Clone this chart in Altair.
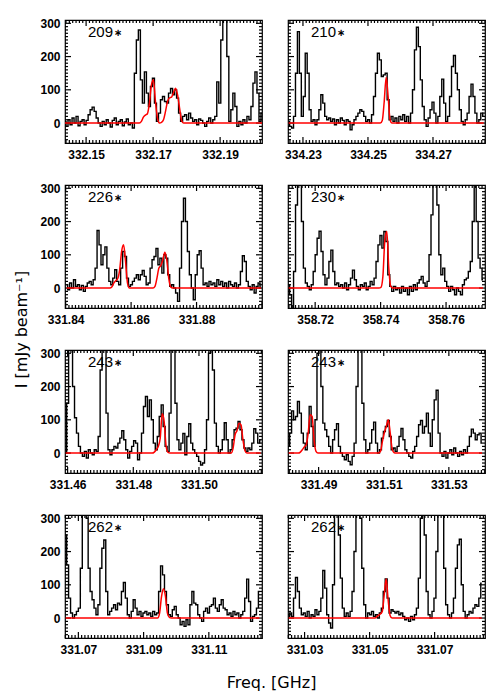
import altair as alt
import numpy as np
import pandas as pd

# ---------------- data ----------------
DF = 0.0006  # channel width [GHz]

labels = ["209", "210", "226", "230", "243", "243", "262", "262"]
STAR = "\u2217"

chan0 = [332.1437, 334.2256, 331.8403, 358.7119,
         331.4594, 331.4808, 331.0661, 331.0251]

xdom = [[332.1437, 332.2025], [334.2254, 334.2860],
        [331.8398, 331.9000], [358.7117, 358.7719],
        [331.4592, 331.5192], [331.4806, 331.5411],
        [331.0659, 331.1263], [331.0249, 331.0855]]

xlabels = [[332.15, 332.17, 332.19], [334.23, 334.25, 334.27],
           [331.84, 331.86, 331.88], [358.72, 358.74, 358.76],
           [331.46, 331.48, 331.50], [331.49, 331.51, 331.53],
           [331.07, 331.09, 331.11], [331.03, 331.05, 331.07]]

ylabels = [0, 100, 200, 300]

spec_209 = [5, -10, 10, -5, 15, 0, 20, -8, 5, 10, -5, 8,
            25, 40, 48, 35, 15,
            0, -10, 5, -5, 10, 0, -12, 8, 15, -5, 5, 10, -8, 3, 12, -5, 0, -15,
            150, 250, 280, 130, 60, 154, 90, 50, 110, 135, 60, 5, 30, 70, 80, 65,
            60, 90, 104, 85, 100, 75, 30, 5,
            20, 25, 10, 30, 15, 5, 10, -5, 12, 8, 0, -10, 5, 15, 0, 10,
            20, 124, 60, 250, 380, 400, 200, 5, 40, 90, 50, -10, 5, -5, 10, 0,
            20, 10, 50, 120, 154, 90, 5, 30]

spec_210 = [5, -10, -15, 20, 150, 275, 150, 20, 80, 210,
            150, 40, 5, 10, -5, 10, 40, 85, 60, 20,
            10, 15, 5, 12, -5, 10, 0, 15, 8, -5,
            10, 5, -20, -5, 10, 20, 30, 40, 35, 20,
            5, 10, 0, 25, 80, 150, 210, 190, 140, 145,
            150, 70, 10, 20, 5, 15, 0, 20, 10, 25,
            5, 20, 0, 30, 100, 220, 288, 230, 130, 50,
            10, -10, 15, 40, 63, 30, 0, 20, 80, 132,
            60, 5, 20, 80, 170, 203, 150, 100, 40, 5,
            -5, 10, 30, 80, 117, 80, 30, 0, 10, 30, 20]

spec_226 = [10, -5, 15, 0, 25, 5, 10, -5, 8, -10,
            5, 15, 20, 10, 25, 60, 173, 130, 70, 100,
            124, 60, 20, 10, 30, 55, 20, 10, 60, 110,
            95, 30, 5, 10, 20, 30, 40, 25, 40, 53,
            35, 10, 15, 60, 85, 95, 119, 70, 90, 45,
            100, 90, 40, 5, 10, 0, -15, -40, 60, 200,
            270, 200, 110, 40, 0, -35, 40, 100, 112, 60,
            10, 15, 5, 20, 10, 15, 5, 25, 10, 20,
            5, 15, 0, 20, 10, 5, 15, 0, 10, 50,
            97, 80, 20, 5, -5, 10, -15, 5, 15, 0]

spec_230 = [10, -20, -70, 50, 250, 380, 400, 200, 60, 15,
            5, -5, 10, 50, 100, 150, 171, 110, 40, 10,
            30, 80, 114, 50, 10, 15, 5, 10, 0, 15,
            -5, 10, 30, 54, 25, 5, -5, 10, 5, 15,
            -5, 5, 20, 10, 30, 80, 130, 158, 120, 170,
            140, 40, 5, -10, 5, -5, 0, -15, 5, -10,
            0, -20, 5, -10, 10, -5, 15, 25, 35, 15,
            5, 20, 100, 220, 340, 400, 250, 100, 40, 60,
            20, 5, -10, 5, -5, -20, 0, -10, -20, 10,
            25, 30, 50, 80, 200, 330, 200, 90, 60, 25]

spec_243a = [0, 150, 350, 400, 200, 106, 60, 20, 0, -10,
             5, -15, 10, 0, -5, 10, 5, 50, 250, 400,
             350, 120, 10, -5, 10, 20, 15, 30, 45, 67,
             40, 10, -15, 5, 20, 37, 30, -20, 0, 60,
             140, 170, 110, 160, 100, 30, 10, 50, 110, 145,
             80, 20, 5, 120, 350, 380, 150, 40, 10, 30,
             59, -5, 50, 88, 30, 10, 0, -10, -25, -36,
             -30, 10, 100, 300, 400, 250, 90, 20, 0, 10,
             40, 91, 40, 0, 10, 40, 70, 75, 95, 70,
             40, 15, 5, 15, 10, 30, 73, 60, 30, 40]

spec_243b = [20, 60, 127, 100, 110, 155, 120, 60, 30, 10,
             60, 140, 80, 20, 100, 300, 400, 200, 90, 70,
             50, 20, 0, 40, 70, 88, 20, 0, -10, -20,
             -5, -25, -35, -10, 30, 200, 400, 350, 150, 40,
             0, 10, 30, 70, 93, 30, 0, 10, 45, 65,
             80, 98, 50, 10, 15, 5, 20, 50, 74, 40,
             10, 0, -10, -15, 5, 20, 50, 85, 98, 60,
             80, 120, 60, 20, 100, 160, 189, 60, 0, -10,
             5, -15, 0, 10, -5, 15, 0, -10, 5, -5,
             10, 0, 20, 50, 72, 60, 40, 55, 60, 30]

spec_262a = [250, 160, 60, 15, 0, 10, 20, 30, 150, 350,
             400, 300, 150, 80, 55, 30, 10, 40, 150, 210,
             235, 80, 10, 20, 30, 40, 25, 45, 40, 80,
             107, 60, 10, 0, 20, 55, 30, 10, 20, 5,
             15, 20, 10, 15, 5, 20, 10, 15, 80, 157,
             130, 80, 40, 10, 5, 25, 35, 10, 0, -20,
             -10, -25, -5, -20, 40, 80, 45, 40, 10, 0,
             -10, 20, 30, 15, 35, 40, 60, 30, 20, 40,
             55, 30, 25, 10, 15, 5, 20, 10, 15, 0,
             10, 20, 60, 117, 50, -10, 5, 10, 30, 80]

spec_262b = [5, 15, 5, 60, 122, 80, 30, 10, 15, 5,
             20, 0, 10, 5, 25, 10, 20, 60, 143, 90,
             10, -15, -30, 100, 400, 400, 250, 120, 30, 5,
             15, 5, 20, 80, 200, 330, 400, 300, 150, 40,
             0, 15, 10, 20, 5, 10, 0, 15, 30, 80,
             118, 60, 15, 25, 20, 15, 20, 10, 15, 5,
             -5, 0, -10, 5, -5, 10, 30, 120, 300, 400,
             250, 80, 10, 0, 20, 60, 200, 350, 400, 380,
             150, 40, 10, 0, 15, 60, 150, 220, 237, 100,
             20, 0, 10, 20, 15, 30, 40, 35, 60, 105]

spectra = [spec_209, spec_210, spec_226, spec_230,
           spec_243a, spec_243b, spec_262a, spec_262b]

# model (red) segments: (first channel, values); zero elsewhere
model_209 = [(37, [0, 5, 18, 24, 28, 60, 115, 130, 65, 15, 0, 2, 10, 35, 65, 76,
                   78, 92, 105, 85, 45, 8, 0])]
model_210 = [(47, [0, 8, 65, 138, 80, 10, 0])]
model_226 = [(22, [0, 3, 15, 22, 28, 55, 110, 130, 80, 15, 0]),
             (45, [5, 30, 60, 68, 85, 108, 85, 30, 3, 0])]
model_230 = [(47, [2, 35, 145, 170, 60, 5, 0])]
model_243a = [(44, [0, 3, 10, 20, 45, 118, 95, 20, 2, 0]),
              (84, [0, 15, 55, 68, 90, 85, 40, 8, 0])]
model_243b = [(5, [0, 3, 10, 18, 25, 60, 115, 110, 40, 5, 0]),
              (46, [0, 5, 35, 62, 80, 100, 60, 12, 1, 0])]
model_262a = [(47, [0, 15, 65, 88, 65, 15, 2, 0])]
model_262b = [(44, [0, 3, 8, 12, 20, 70, 118, 55, 8, 0])]

models = [model_209, model_210, model_226, model_230,
          model_243a, model_243b, model_262a, model_262b]

# ---------------- layout ----------------
W, H = 197, 123
YDOM = [-60, 310]
LABFONT = "Liberation Sans"
TITLEFONT = "DejaVu Sans"
MAJ, MIN = 6.0, 3.0  # inner tick lengths in px


def panel(k):
    left = (k % 2 == 0)
    spec = spectra[k]
    n = len(spec)
    freq = chan0[k] + DF * np.arange(n)
    model = np.zeros(n)
    for s, seg in models[k]:
        model[s:s + len(seg)] = seg
    df = pd.DataFrame({"f": freq, "I": spec, "M": model})

    xs = alt.Scale(domain=xdom[k], nice=False, zero=False)
    ys = alt.Scale(domain=YDOM, nice=False, zero=False)

    xkw = dict(values=xlabels[k], format=".2f", ticks=False, tickSize=0,
               domain=False, grid=False, labelFont=LABFONT, labelFontSize=12,
               labelFontWeight="bold", labelPadding=6, labelFlush=False,
               labelColor="black", title=None)
    if k == 6:
        xkw.update(title="Freq. [GHz]", titleX=206, titleY=44,
                   titleAlign="center", titleBaseline="middle",
                   titleFont=TITLEFONT, titleFontSize=16,
                   titleFontWeight="normal", titleColor="black")
    xax = alt.Axis(**xkw)

    if left:
        ykw = dict(values=ylabels, ticks=False, tickSize=0, domain=False,
                   grid=False, labelFont=LABFONT, labelFontSize=12,
                   labelFontWeight="bold", labelPadding=5, labelFlush=False,
                   labelColor="black", title=None)
        if k == 2:
            ykw.update(title="I [mJy beam\u207b\u00b9]", titleX=-44, titleY=144,
                       titleAngle=270, titleAlign="center",
                       titleBaseline="middle", titleFont=TITLEFONT,
                       titleFontSize=16, titleFontWeight="normal",
                       titleColor="black")
        yax = alt.Axis(**ykw)
    else:
        yax = None

    X = lambda fld: alt.X(fld, scale=xs, axis=xax)
    Y = lambda fld: alt.Y(fld, scale=ys, axis=yax)

    black = alt.Chart(df).mark_line(
        interpolate="step", color="black", strokeWidth=1.4, clip=True
    ).encode(x=X("f:Q"), y=Y("I:Q"))

    red = alt.Chart(df).mark_line(
        interpolate="monotone", color="#ff0000", strokeWidth=1.5, clip=True
    ).encode(x=X("f:Q"), y=Y("M:Q"))

    # frame ticks drawn inside, on all four sides
    lo, hi = xdom[k]
    ypx = (YDOM[1] - YDOM[0]) / H   # data units per px (y)
    xpx = (hi - lo) / W             # data units per px (x)
    base = int(round(xlabels[k][0] * 1000))
    kk = np.arange(int(np.ceil(lo * 1000)), int(np.floor(hi * 1000)) + 1)
    rx, ry0, ry1 = [], [], []
    for q in kk:
        L = (MAJ if (q - base) % 20 == 0 else MIN) * ypx
        rx += [q / 1000.0, q / 1000.0]
        ry0 += [YDOM[0], YDOM[1]]
        ry1 += [YDOM[0] + L, YDOM[1] - L]
    xt = pd.DataFrame({"tf": rx, "ta": ry0, "tb": ry1})
    xticks = alt.Chart(xt).mark_rule(color="#000000", strokeWidth=1.2, opacity=1).encode(
        x=X("tf:Q"), y=Y("ta:Q"), y2=alt.Y2("tb:Q"))

    ty, tx0, tx1 = [], [], []
    for v in range(-50, 310, 10):
        L = (MAJ if v % 100 == 0 else MIN) * xpx
        ty += [v, v]
        tx0 += [lo, hi]
        tx1 += [lo + L, hi - L]
    yt = pd.DataFrame({"tv": ty, "tc": tx0, "td": tx1})
    yticks = alt.Chart(yt).mark_rule(color="#000000", strokeWidth=1.2, opacity=1).encode(
        y=Y("tv:Q"), x=X("tc:Q"), x2=alt.X2("td:Q"))

    lab = pd.DataFrame({"t": [labels[k]], "s": [STAR]})
    txt = alt.Chart(lab).mark_text(
        align="left", baseline="middle", font=LABFONT, fontSize=15, color="black"
    ).encode(text="t:N", x=alt.value(23), y=alt.value(12))
    star = alt.Chart(lab).mark_text(
        align="center", baseline="middle", font="DejaVu Sans", fontSize=10,
        fontWeight="bold", color="black"
    ).encode(text="s:N", x=alt.value(53), y=alt.value(13))

    return alt.layer(xticks, yticks, black, red, txt, star).properties(width=W, height=H)


chart = alt.concat(
    *[panel(k) for k in range(8)],
    columns=2,
    spacing={"row": 42, "column": 26},
    bounds="flush",
).properties(
    padding={"left": 4, "top": 8, "right": 5, "bottom": 5},
    background="white",
).configure_view(stroke="black", strokeWidth=1.2)

chart.save("out.html", embed_options={"renderer": "svg", "actions": False})
